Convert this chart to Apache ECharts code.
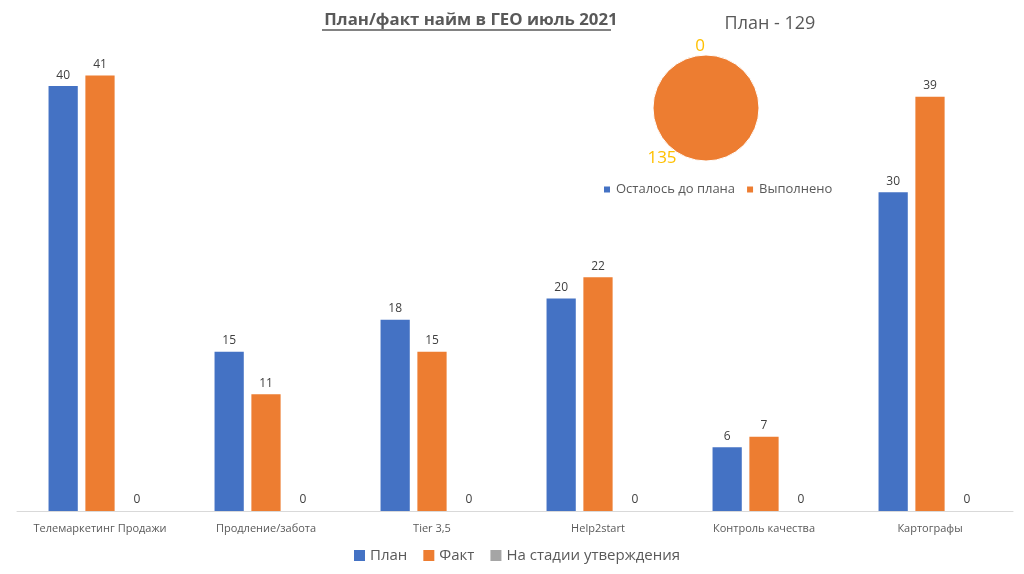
<!DOCTYPE html>
<html><head><meta charset="utf-8">
<script src="https://cdn.jsdelivr.net/npm/echarts@6/dist/echarts.min.js"></script>
<style>html,body{margin:0;padding:0;background:#fff}#c{width:1024px;height:574px}</style>
</head><body><div id="c"></div>
<script>
const categories = ['Телемаркетинг Продажи','Продление/забота','Tier 3,5','Help2start','Контроль качества','Картографы'];
const planValues = [40, 15, 18, 20, 6, 30];
const factValues = [41, 11, 15, 22, 7, 39];
const approvalValues = [0, 0, 0, 0, 0, 0];
const seriesNames = ['План','Факт','На стадии утверждения'];
const pieTitle = 'План - 129';
const pieNames = ['Осталось до плана','Выполнено'];
const pieValues = [0, 135];
const mainTitle = 'План/факт найм в ГЕО июль 2021';

const font = 'Open Sans';
const chart = echarts.init(document.getElementById('c'));
const barLabel = {show:true, position:'top', color:'#404040', fontSize:12, fontFamily:font, distance:5};
chart.setOption({
  animation:false,
  textStyle:{fontFamily:font},
  title:[
    {text:mainTitle, left:466, top:7, textAlign:'center', textStyle:{fontSize:16.8, fontWeight:'bold', color:'#595959', fontFamily:font}},
    {text:pieTitle, left:765, top:10, textAlign:'center', textStyle:{fontSize:18, fontWeight:'normal', color:'#595959', fontFamily:font}}
  ],
  graphic:[{type:'line', shape:{x1:322,y1:30,x2:611,y2:30}, style:{stroke:'#595959', lineWidth:1.5}}],
  legend:[
    {data:seriesNames, bottom:6, left:349, itemWidth:11, itemHeight:11, icon:'rect', itemGap:16,
     textStyle:{fontSize:15, color:'#595959', fontFamily:font}},
    {data:pieNames, top:178, left:597, itemWidth:8, itemHeight:8, icon:'rect', itemGap:10,
     textStyle:{fontSize:13, color:'#595959', fontFamily:font}}
  ],
  grid:{left:17, right:11, top:33, bottom:63, containLabel:false},
  xAxis:{type:'category', data:categories, axisTick:{show:false},
    axisLine:{lineStyle:{color:'#D9D9D9'}},
    axisLabel:{color:'#595959', fontSize:11, fontFamily:font, margin:12, interval:0}},
  yAxis:{type:'value', min:0, max:45, show:false, splitLine:{show:false}},
  color:['#4472C4','#ED7D31','#A5A5A5'],
  series:[
    {name:seriesNames[0], type:'bar', data:planValues, barGap:'26%', barCategoryGap:'38%', label:barLabel, itemStyle:{color:'#4472C4'}},
    {name:seriesNames[1], type:'bar', data:factValues, label:barLabel, itemStyle:{color:'#ED7D31'}},
    {name:seriesNames[2], type:'bar', data:approvalValues, label:barLabel, itemStyle:{color:'#A5A5A5'}},
    {type:'pie', center:[706,108], radius:53, startAngle:90, clockwise:true,
     data:pieNames.map((n,i)=>({name:n, value:pieValues[i]})),
     color:['#4472C4','#ED7D31'],
     itemStyle:{borderColor:'#fff', borderWidth:1},
     minShowLabelAngle:0, stillShowZeroSum:true,
     label:{show:true, position:'outside', formatter:'{c}', color:'#FFC000', fontSize:17, fontFamily:font},
     labelLine:{show:false},
     labelLayout:function(p){ return p.dataIndex===0 ? {x:700, y:46, align:'center', verticalAlign:'middle'} : {x:662, y:158, align:'center', verticalAlign:'middle'}; }
    }
  ]
});
</script></body></html>
